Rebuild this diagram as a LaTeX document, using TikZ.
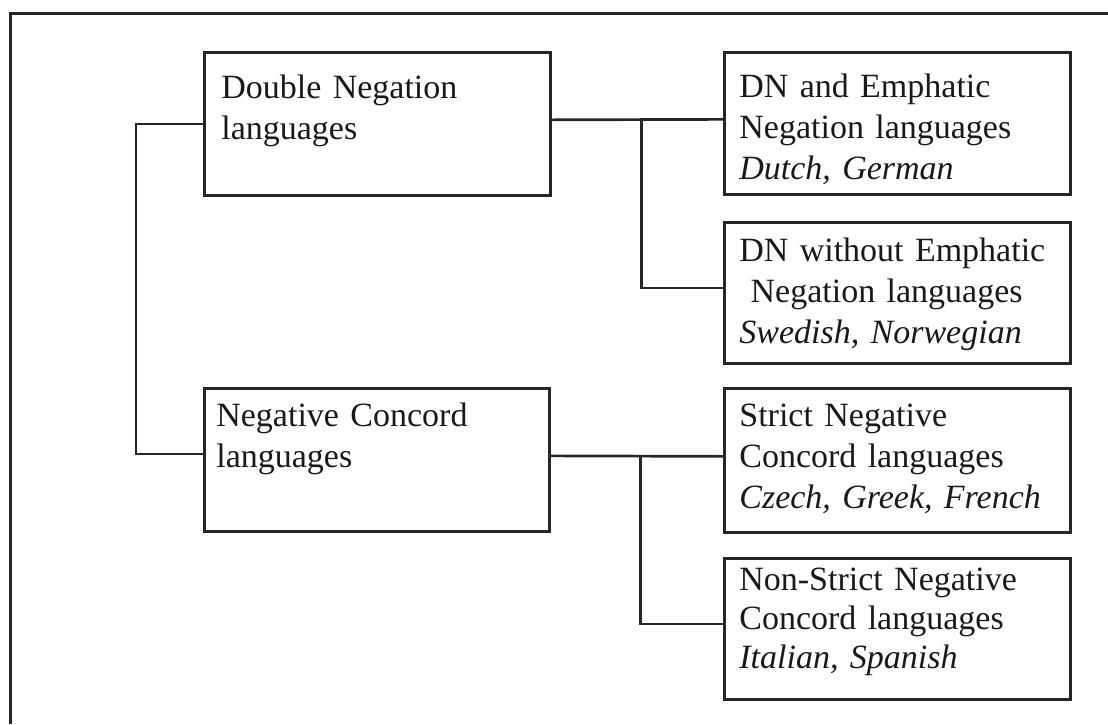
\documentclass[tikz,border=0pt]{standalone}
\usepackage{fontspec}
\setmainfont{Liberation Serif}
\usepackage{xcolor}
\usepackage{tikz}
\usetikzlibrary{shapes, arrows.meta, positioning}

\tikzset{
    langbox/.style={draw=black!85, line width=2.7pt, rectangle, anchor=north west,
        inner ysep=0pt, align=left, text=black!90, font=\fontsize{34}{41}\selectfont},
    branch/.style={draw=black!85, line width=2.7pt},
}

\begin{document}
\begin{tikzpicture}[x=1pt, y=-1pt]
            \useasboundingbox (0,0) rectangle (1108,724);
            % outer frame (cropped on the right and bottom)
            \draw[black!85, line width=3pt] (10,724) -- (10,13) -- (1108,13);

            \node[langbox, inner xsep=17pt, text width=312pt, text height=46pt, text depth=97pt] (dneg) at (203,51) {
                \begin{tabular}[t]{@{}l@{}}
                    Double Negation \\
                    languages
                \end{tabular}
            };
            \node[langbox, inner xsep=12pt, text width=321pt, text height=38pt, text depth=105pt] (negconc) at (203,387) {
                \begin{tabular}[t]{@{}l@{}}
                    Negative Concord \\
                    languages
                \end{tabular}
            };

            \node[langbox, inner xsep=15pt, text width=316pt, text height=45pt, text depth=97pt] (dnemph) at (723,51) {
                \begin{tabular}[t]{@{}l@{}}
                    DN and Emphatic \\
                    Negation languages \\
                    \textit{Dutch, German}
                \end{tabular}
            };
            \node[langbox, inner xsep=15pt, text width=316pt, text height=39pt, text depth=102pt] (dnnoemph) at (723,221) {
                \begin{tabular}[t]{@{}l@{}}
                    DN without Emphatic \\
                    \ Negation languages \\
                    \textit{Swedish, Norwegian}
                \end{tabular}
            };
            \node[langbox, inner xsep=15pt, text width=316pt, text height=38pt, text depth=106pt] (strictnc) at (723,387) {
                \begin{tabular}[t]{@{}l@{}}
                    Strict Negative \\
                    Concord languages \\
                    \textit{Czech, Greek, French}
                \end{tabular}
            };
            \node[langbox, inner xsep=15pt, text width=316pt, text height=32pt, text depth=109pt, font=\fontsize{34}{39}\selectfont] (nonstrictnc) at (723,557) {
                \begin{tabular}[t]{@{}l@{}}
                    Non-Strict Negative \\
                    Concord languages \\
                    \textit{Italian, Spanish}
                \end{tabular}
            };

            % connectors
            \draw[branch] (dneg.west) -- ++(-67,0) |- ([yshift=6pt]negconc.west);
            \draw[branch] ([yshift=4pt]dneg.east) -- ([yshift=4pt]dnemph.west) coordinate[pos=0.523] (jdn);
            \draw[branch] (jdn) |- ([yshift=5pt]dnnoemph.west);
            \draw[branch] ([yshift=4pt]negconc.east) -- ([yshift=4pt]strictnc.west) coordinate[pos=0.523] (jnc);
            \draw[branch] (jnc) |- ([yshift=5pt]nonstrictnc.west);
        \end{tikzpicture}
\end{document}
